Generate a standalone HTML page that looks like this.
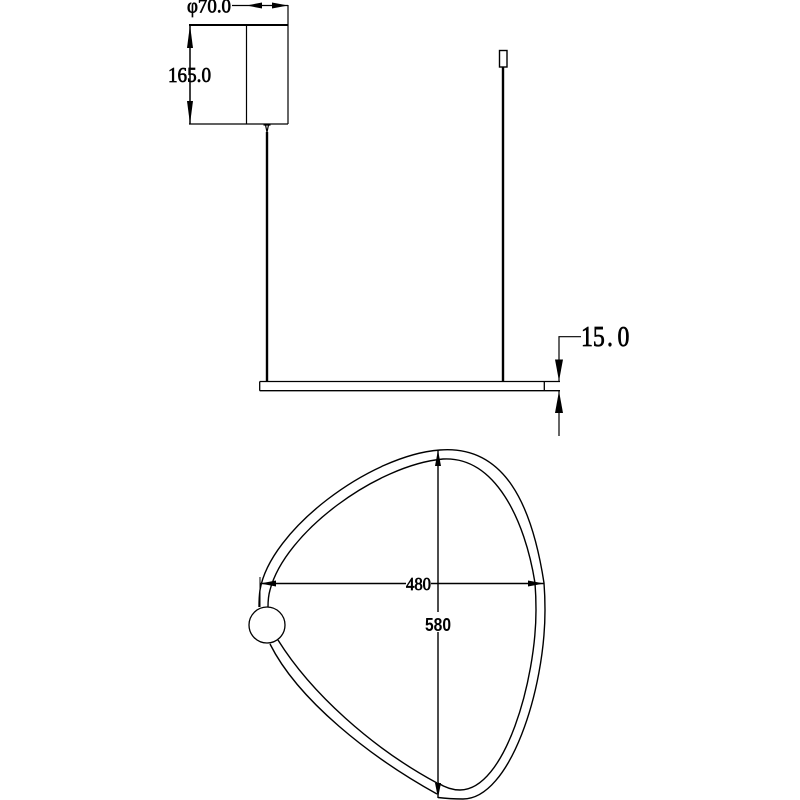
<!DOCTYPE html>
<html>
<head>
<meta charset="utf-8">
<style>
html,body{margin:0;padding:0;background:#fff;width:800px;height:800px;overflow:hidden}
svg{display:block}
text{fill:#000;font-family:"Liberation Serif",serif}
</style>
</head>
<body>
<svg width="800" height="800" viewBox="0 0 800 800" xmlns="http://www.w3.org/2000/svg">
<rect width="800" height="800" fill="#fff"/>
<g fill="none" stroke="#000" stroke-width="1.2">
  <path d="M246.5,25V124M288,5V124M189,124H288"/>
  <path d="M189,25H288" stroke-width="2"/>
  <path d="M232,5.5H288"/>
  <path d="M190,25V124" stroke-width="1.5"/>
  <path d="M267,132V381M503,67V381" stroke-width="2.4"/>
  <path d="M263.5,125H270.5M265.5,125L267,132L268.5,125"/>
  <rect x="499.5" y="50.5" width="7.5" height="16.5" stroke-width="1.4"/>
  <path d="M259.7,381.5H560M259.7,390.7H560M259.7,381.5V390.7M544.3,381.5V390.7" stroke-width="1.3"/>
  <path d="M559,381V336.7H581M559,391V436"/>
  <!-- ring outer -->
  <path stroke-width="1.4" d="M259,607 Q259,597 260,590 C270,530 370,455 440,450 C505,445 532,505 544,583 Q545,596 545,610 C545,690 510,799 463,799 Q450,799 438,797.5"/>
  <path stroke-width="1.4" d="M270,644 C298,700 370,757 437,794"/>
  <!-- ring inner -->
  <path stroke-width="1.4" d="M268,607 Q268,597 270,590 C285,532 377,465 443,459 C495,456 525,520 535,583 Q536,596 536,610 C536,680 505,790 460,790 Q449,790 438,783"/>
  <path stroke-width="1.4" d="M278,640 C311,693 372,748 437,783"/>
  <path d="M260,583.5H544" stroke-width="1.4"/>
  <path d="M260,577V607" stroke-width="1"/>
  <path d="M438,450V798" stroke-width="1.4"/>
</g>
<circle cx="267" cy="625" r="18" fill="#fff" stroke="#000" stroke-width="1.3"/>
<g fill="#000" stroke="none">
  <path d="M190,25L193,48H187Z"/>
  <path d="M190,124L193,101H187Z"/>
  <path d="M246.5,5.5L262,2.5V8.5Z"/>
  <path d="M288,5.5L272,2.5V8.5Z"/>
  <path d="M559,381L555,359.5H563Z"/>
  <path d="M559,391L555,413H563Z"/>
  <path d="M260,583.5L276,580.5V586.5Z"/>
  <path d="M544,583.5L528,580.5V586.5Z"/>
  <path d="M438,450L441,466H435Z"/>
  <path d="M438,798L435,783H441Z"/>
</g>
<rect x="406" y="576" width="25" height="16" fill="#fff"/>
<rect x="425" y="612" width="26" height="20" fill="#fff"/>
<g stroke="#000" stroke-width="0.7">
<text x="187" y="12.5" font-size="20" textLength="44" lengthAdjust="spacingAndGlyphs">φ70.0</text>
<text x="168" y="82" font-size="21" textLength="43" lengthAdjust="spacingAndGlyphs">165.0</text>
<text transform="translate(581,346) scale(.85,1)" x="0 14 30.6 43" y="0" font-size="28">15.0</text>
<text x="406" y="590" font-size="18" textLength="25" lengthAdjust="spacingAndGlyphs">480</text>
</g>
<text x="425" y="631" font-size="18" font-weight="bold" textLength="26" lengthAdjust="spacingAndGlyphs" style="font-family:'Liberation Sans',sans-serif">580</text>
</svg>
</body>
</html>
